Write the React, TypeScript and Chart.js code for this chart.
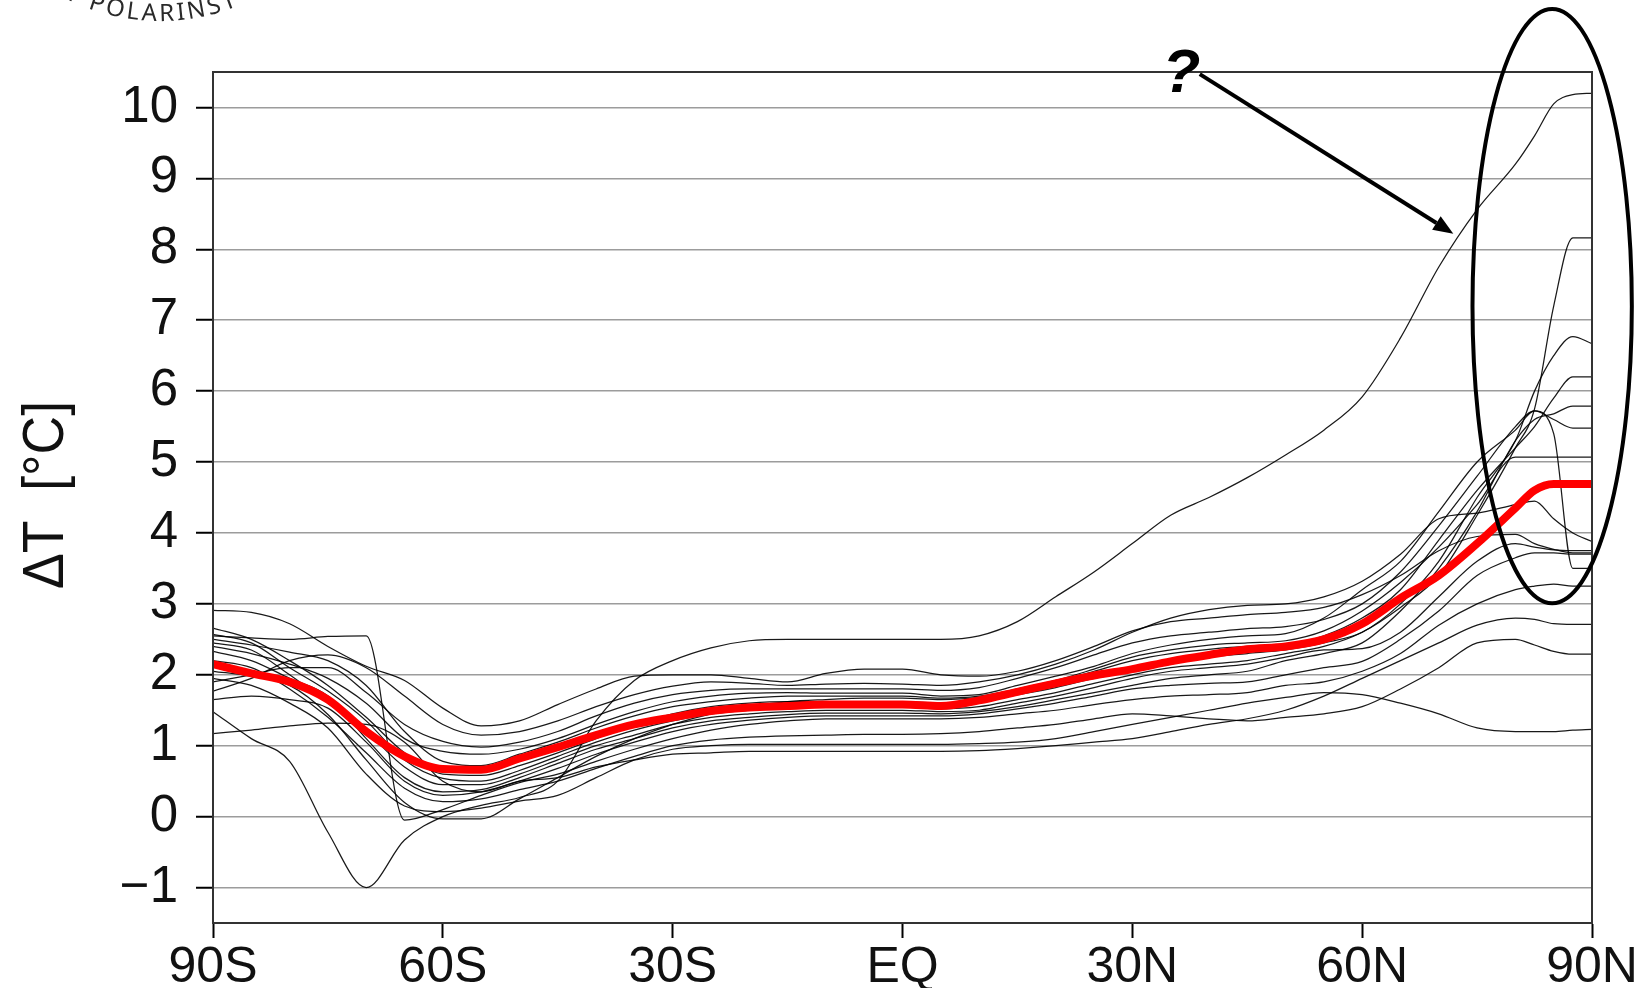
import React, { useEffect, useRef } from 'react';
import { Chart, registerables } from 'chart.js';

Chart.register(...registerables);

// Latitudes (degrees, negative = south)
const LATS = [-90, -85, -80, -75, -70, -65, -60, -55, -50, -45, -40, -35, -30, -25, -20, -15, -10, -5, 0, 5, 10, 15, 20, 25, 30, 35, 40, 45, 50, 55, 60, 65, 70, 75, 80, 82.5, 85, 87.5, 90];

// Multi-model mean (red)
const MEAN = [2.15, 2.02, 1.9, 1.65, 1.2, 0.85, 0.67, 0.66, 0.82, 0.98, 1.15, 1.3, 1.4, 1.49, 1.54, 1.56, 1.58, 1.58, 1.58, 1.56, 1.64, 1.76, 1.88, 1.99, 2.08, 2.19, 2.28, 2.36, 2.4, 2.5, 2.72, 3.08, 3.4, 3.85, 4.35, 4.6, 4.69, 4.69, 4.69];

// Individual models (black)
const M01 = [1.48, 1.1, 0.78, -0.22, -1.0, -0.33, 0.0, 0.16, 0.27, 0.5, 1.35, 1.92, 2.2, 2.38, 2.48, 2.5, 2.5, 2.5, 2.5, 2.5, 2.55, 2.75, 3.1, 3.45, 3.85, 4.25, 4.5, 4.78, 5.1, 5.45, 5.92, 6.75, 7.75, 8.56, 9.2, 9.6, 10.05, 10.18, 10.2];
const M02 = [2.57, 2.45, 2.1, 1.77, 1.35, 0.8, 0.54, 0.5, 0.65, 0.85, 1.05, 1.22, 1.35, 1.45, 1.5, 1.53, 1.55, 1.55, 1.55, 1.52, 1.55, 1.65, 1.75, 1.88, 2.0, 2.1, 2.15, 2.2, 2.3, 2.4, 2.6, 2.95, 3.4, 4.25, 5.2, 5.75, 7.2, 8.16, 8.16];
const M03 = [2.4, 2.3, 2.15, 1.95, 1.6, 1.1, 0.92, 0.88, 0.95, 1.1, 1.3, 1.48, 1.62, 1.7, 1.74, 1.75, 1.74, 1.74, 1.74, 1.7, 1.72, 1.85, 1.98, 2.12, 2.3, 2.42, 2.5, 2.55, 2.58, 2.8, 3.2, 3.6, 4.3, 5.0, 5.45, 5.72, 5.4, 3.5, 3.5];
const M04 = [2.66, 2.5, 2.2, 1.85, 1.4, 0.9, 0.6, 0.58, 0.72, 0.9, 1.1, 1.3, 1.45, 1.55, 1.6, 1.62, 1.62, 1.62, 1.62, 1.6, 1.63, 1.72, 1.82, 1.95, 2.05, 2.15, 2.25, 2.3, 2.35, 2.45, 2.6, 3.0, 3.6, 4.5, 5.3, 6.0, 6.5, 6.77, 6.67];
const M05 = [2.05, 1.98, 1.85, 1.44, 0.8, 0.2, -0.03, -0.03, 0.25, 0.55, 0.85, 1.1, 1.3, 1.45, 1.55, 1.62, 1.65, 1.67, 1.67, 1.65, 1.68, 1.78, 1.9, 2.05, 2.2, 2.3, 2.36, 2.4, 2.42, 2.55, 2.8, 3.2, 3.9, 4.6, 5.2, 5.5, 5.9, 6.2, 6.2];
const M06 = [2.33, 2.2, 1.95, 1.7, 1.1, 0.55, 0.35, 0.38, 0.55, 0.75, 0.95, 1.1, 1.25, 1.35, 1.4, 1.44, 1.46, 1.46, 1.46, 1.45, 1.48, 1.55, 1.65, 1.75, 1.85, 1.95, 2.0, 2.05, 2.2, 2.3, 2.45, 2.9, 3.5, 4.3, 5.3, 5.6, 5.68, 5.79, 5.79];
const M07 = [1.9, 2.0, 2.1, 2.1, 1.75, 1.3, 1.06, 0.98, 1.05, 1.2, 1.42, 1.6, 1.72, 1.78, 1.8, 1.8, 1.8, 1.8, 1.8, 1.78, 1.82, 1.95, 2.1, 2.28, 2.45, 2.55, 2.6, 2.65, 2.68, 2.78, 3.0, 3.45, 4.1, 4.8, 5.5, 5.72, 5.6, 5.48, 5.48];
const M08 = [2.5, 2.42, 2.32, 2.2, 1.85, 1.2, 0.78, 0.72, 0.88, 1.05, 1.25, 1.42, 1.55, 1.62, 1.67, 1.7, 1.7, 1.7, 1.7, 1.67, 1.7, 1.8, 1.92, 2.08, 2.25, 2.35, 2.42, 2.45, 2.48, 2.62, 2.9, 3.3, 3.8, 4.4, 5.07, 5.07, 5.07, 5.07, 5.07];
const M09 = [1.77, 1.95, 2.2, 2.28, 2.1, 1.7, 1.3, 1.15, 1.2, 1.35, 1.55, 1.72, 1.84, 1.9, 1.88, 1.85, 1.87, 1.88, 1.87, 1.85, 1.9, 2.0, 2.15, 2.35, 2.6, 2.8, 2.92, 2.98, 3.0, 3.1, 3.32, 3.7, 4.2, 4.28, 4.4, 4.45, 4.2, 4.0, 3.88];
const M10 = [2.91, 2.88, 2.72, 2.4, 2.12, 1.92, 1.53, 1.28, 1.35, 1.58, 1.8, 1.98, 2.0, 2.0, 1.95, 1.9, 2.02, 2.08, 2.08, 2.0, 1.98, 2.05, 2.2, 2.4, 2.62, 2.75, 2.8, 2.85, 2.88, 2.95, 3.13, 3.4, 3.75, 3.95, 3.98, 3.85, 3.77, 3.72, 3.72];
const M11 = [1.65, 1.7, 1.65, 1.53, 1.05, 0.5, 0.3, 0.35, 0.5, 0.68, 0.88, 1.05, 1.2, 1.3, 1.36, 1.4, 1.42, 1.42, 1.42, 1.42, 1.45, 1.52, 1.6, 1.7, 1.8, 1.85, 1.88, 1.9, 2.0, 2.1, 2.19, 2.5, 2.9, 3.4, 3.65, 3.72, 3.72, 3.7, 3.7];
const M12 = [2.55, 2.52, 2.5, 2.54, 2.55, -0.05, 0.1, 0.3, 0.48, 0.6, 0.78, 0.95, 1.1, 1.22, 1.3, 1.35, 1.38, 1.38, 1.38, 1.38, 1.4, 1.45, 1.5, 1.58, 1.65, 1.7, 1.72, 1.75, 1.85, 1.9, 2.05, 2.3, 2.7, 3.0, 3.2, 3.25, 3.28, 3.25, 3.25];
const M13 = [1.17, 1.22, 1.28, 1.32, 1.3, 1.05, 0.5, 0.35, 0.5, 0.55, 0.7, 0.8, 0.88, 0.9, 0.92, 0.92, 0.92, 0.92, 0.92, 0.92, 0.93, 0.96, 1.0, 1.05, 1.1, 1.2, 1.3, 1.38, 1.5, 1.7, 1.95, 2.2, 2.45, 2.7, 2.8, 2.78, 2.72, 2.71, 2.71];
const M14 = [2.2, 2.1, 1.8, 1.4, 0.9, 0.4, 0.21, 0.25, 0.38, 0.5, 0.68, 0.85, 1.0, 1.08, 1.12, 1.14, 1.15, 1.16, 1.16, 1.17, 1.2, 1.25, 1.3, 1.38, 1.45, 1.42, 1.38, 1.35, 1.4, 1.45, 1.55, 1.8, 2.1, 2.45, 2.5, 2.42, 2.33, 2.29, 2.29];
const M15 = [1.95, 1.85, 1.6, 1.25, 0.6, 0.15, 0.07, 0.12, 0.22, 0.3, 0.55, 0.8, 0.95, 1.0, 1.02, 1.02, 1.02, 1.02, 1.02, 1.02, 1.03, 1.05, 1.1, 1.2, 1.3, 1.4, 1.5, 1.6, 1.68, 1.75, 1.72, 1.6, 1.45, 1.25, 1.2, 1.2, 1.2, 1.22, 1.23];
const M16 = [2.45, 2.35, 2.0, 1.6, 1.2, 0.7, 0.45, 0.45, 0.6, 0.8, 1.0, 1.15, 1.3, 1.4, 1.45, 1.48, 1.5, 1.5, 1.5, 1.48, 1.5, 1.6, 1.7, 1.82, 1.95, 2.05, 2.1, 2.15, 2.25, 2.35, 2.37, 2.6, 3.1, 3.6, 3.85, 3.8, 3.76, 3.75, 3.75];

const MODELS = [M01, M02, M03, M04, M05, M06, M07, M08, M09, M10, M11, M12, M13, M14, M15, M16];

// Axes
const X_TICKS = [-90, -60, -30, 0, 30, 60, 90];
const X_TICK_LABELS = ['90S', '60S', '30S', 'EQ', '30N', '60N', '90N'];
const Y_TICKS = [-1, 0, 1, 2, 3, 4, 5, 6, 7, 8, 9, 10];
const Y_MIN = -1.5;
const Y_MAX = 10.5;
const Y_TITLE = 'ΔT  [°C]';
const LOGO_TEXT = 'T·POLARINST';

// Annotation anchor points in data units (lat, ΔT)
const ELLIPSE_CENTER = [84.8, 7.2];
const ELLIPSE_RADII = [10.4, 4.19];
const ARROW_FROM = [38.8, 10.47];
const ARROW_TO = [71.9, 8.22];
const QMARK_AT = [36.4, 10.22];

const FONT = '"Liberation Sans", Arial, Helvetica, sans-serif';

const toPoints = (arr: number[]) => LATS.map((x, i) => ({ x, y: arr[i] }));

const overlayPlugin = {
  id: 'overlay',
  beforeDraw(chart: any) {
    const ctx = chart.ctx;
    ctx.save();
    ctx.fillStyle = '#ffffff';
    ctx.fillRect(0, 0, chart.width, chart.height);
    ctx.restore();
  },
  afterDraw(chart: any) {
    const ctx: CanvasRenderingContext2D = chart.ctx;
    const a = chart.chartArea;
    const xs = chart.scales.x;
    const ys = chart.scales.y;
    const px = (v: number) => xs.getPixelForValue(v);
    const py = (v: number) => ys.getPixelForValue(v);

    ctx.save();
    // frame
    ctx.strokeStyle = '#333333';
    ctx.lineWidth = 2;
    ctx.strokeRect(a.left, a.top, a.right - a.left, a.bottom - a.top);

    // y-axis title
    ctx.save();
    ctx.translate(47, 495);
    ctx.rotate(-Math.PI / 2);
    ctx.fillStyle = '#111';
    ctx.font = `58px ${FONT}`;
    ctx.textAlign = 'center';
    ctx.textBaseline = 'middle';
    ctx.fillText(Y_TITLE, 0, 0, 188);
    ctx.restore();

    // logo arc text
    ctx.save();
    ctx.fillStyle = '#2a2a2a';
    ctx.font = `24px "Noto Sans", ${FONT}`;
    ctx.textAlign = 'center';
    ctx.textBaseline = 'alphabetic';
    const R = 210;
    const cx = 160;
    const cy = 21 - R;
    const spacing = 3;
    const widths = LOGO_TEXT.split('').map((c) => ctx.measureText(c).width + spacing);
    const total = widths.reduce((s, w) => s + w, 0);
    let phi = Math.asin((150 - cx) / R) - total / 2 / R;
    LOGO_TEXT.split('').forEach((c, i) => {
      const mid = phi + widths[i] / 2 / R;
      const x = cx + R * Math.sin(mid);
      const y = cy + R * Math.cos(mid);
      ctx.save();
      ctx.translate(x, y);
      ctx.rotate(-mid);
      ctx.fillText(c, 0, 0);
      ctx.restore();
      phi += widths[i] / R;
    });
    ctx.restore();

    // question mark
    ctx.fillStyle = '#000';
    ctx.font = `italic bold 62px ${FONT}`;
    ctx.textAlign = 'center';
    ctx.textBaseline = 'alphabetic';
    ctx.fillText('?', px(QMARK_AT[0]), py(QMARK_AT[1]));

    // arrow
    const x0 = px(ARROW_FROM[0]);
    const y0 = py(ARROW_FROM[1]);
    const x1 = px(ARROW_TO[0]);
    const y1 = py(ARROW_TO[1]);
    const ang = Math.atan2(y1 - y0, x1 - x0);
    const headLen = 20;
    const headW = 8;
    const bx = x1 - headLen * Math.cos(ang);
    const by = y1 - headLen * Math.sin(ang);
    ctx.strokeStyle = '#000';
    ctx.lineWidth = 4;
    ctx.beginPath();
    ctx.moveTo(x0, y0);
    ctx.lineTo(bx, by);
    ctx.stroke();
    ctx.beginPath();
    ctx.moveTo(x1, y1);
    ctx.lineTo(bx + headW * Math.sin(ang), by - headW * Math.cos(ang));
    ctx.lineTo(bx - headW * Math.sin(ang), by + headW * Math.cos(ang));
    ctx.closePath();
    ctx.fill();

    // ellipse
    const ecx = px(ELLIPSE_CENTER[0]);
    const ecy = py(ELLIPSE_CENTER[1]);
    const erx = Math.abs(px(ELLIPSE_CENTER[0] + ELLIPSE_RADII[0]) - ecx);
    const ery = Math.abs(py(ELLIPSE_CENTER[1] + ELLIPSE_RADII[1]) - ecy);
    ctx.lineWidth = 4;
    ctx.beginPath();
    ctx.ellipse(ecx, ecy, erx, ery, 0, 0, Math.PI * 2);
    ctx.stroke();

    ctx.restore();
  },
};

export default function App() {
  const ref = useRef<HTMLCanvasElement>(null);

  useEffect(() => {
    if (!ref.current) return;
    const datasets: any[] = [
      {
        label: 'Mean',
        data: toPoints(MEAN),
        borderColor: '#ff0000',
        borderWidth: 8,
        borderJoinStyle: 'round',
        cubicInterpolationMode: 'monotone',
        pointRadius: 0,
        fill: false,
      },
      ...MODELS.map((m, i) => ({
        label: `Model ${i + 1}`,
        data: toPoints(m),
        borderColor: 'rgba(0,0,0,0.9)',
        borderWidth: 1.25,
        cubicInterpolationMode: 'monotone',
        pointRadius: 0,
        fill: false,
      })),
    ];

    const chart = new Chart(ref.current, {
      type: 'line',
      data: { datasets },
      options: {
        animation: false,
        responsive: false,
        maintainAspectRatio: false,
        devicePixelRatio: 1,
        layout: { padding: { left: 0, right: 51, top: 72, bottom: 0 } },
        plugins: { legend: { display: false }, tooltip: { enabled: false }, title: { display: false } },
        elements: { point: { radius: 0 } },
        scales: {
          x: {
            type: 'linear',
            min: -90,
            max: 90,
            afterBuildTicks: (s: any) => {
              s.ticks = X_TICKS.map((v) => ({ value: v }));
            },
            afterFit: (s: any) => {
              s.height = 65;
            },
            ticks: {
              autoSkip: false,
              maxRotation: 0,
              minRotation: 0,
              color: '#111',
              padding: 5,
              font: { family: FONT, size: 50, lineHeight: 1 },
              callback: (_v: any, i: number) => X_TICK_LABELS[i],
            },
            grid: { drawOnChartArea: false, drawTicks: true, tickLength: 15, tickColor: '#000', tickWidth: 2 },
            border: { display: true, color: '#333', width: 2 },
          },
          y: {
            type: 'linear',
            min: Y_MIN,
            max: Y_MAX,
            afterBuildTicks: (s: any) => {
              s.ticks = Y_TICKS.map((v) => ({ value: v }));
            },
            afterFit: (s: any) => {
              s.width = 213;
            },
            ticks: {
              color: '#111',
              padding: 18,
              font: { family: FONT, size: 51 },
              callback: (v: any) => (Number(v) < 0 ? '\u2212' + Math.abs(Number(v)) : String(v)),
            },
            grid: { color: '#9c9c9c', lineWidth: 1.5, drawTicks: true, tickLength: 17, tickColor: '#000', tickWidth: 2 },
            border: { display: true, color: '#333', width: 2 },
          },
        },
      } as any,
      plugins: [overlayPlugin],
    });
    return () => chart.destroy();
  }, []);

  return (
    <canvas
      ref={ref}
      width={1643}
      height={988}
      style={{ position: 'absolute', left: 0, top: 0, width: 1643, height: 988 }}
    />
  );
}
